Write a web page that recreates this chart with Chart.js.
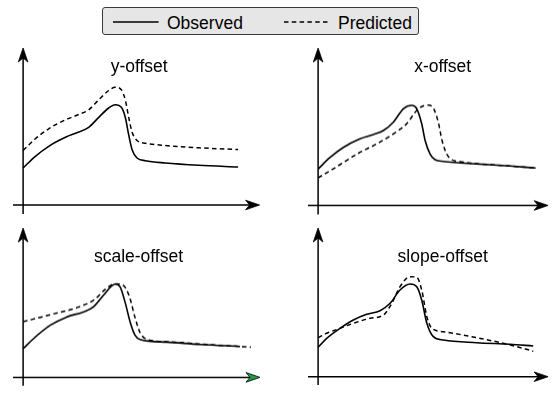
<!DOCTYPE html>
<html><head><meta charset="utf-8">
<script src="https://cdn.jsdelivr.net/npm/chart.js@4.4.1/dist/chart.umd.min.js"></script>
<style>
html,body{margin:0;padding:0;background:#fff;}
body{width:556px;height:394px;position:relative;overflow:hidden;font-family:"Liberation Sans",Arial,Helvetica,sans-serif;color:#000;}
.pan{position:absolute;}
.pan canvas{display:block;}
.ttl{position:absolute;width:200px;text-align:center;font-size:17.5px;line-height:20px;white-space:nowrap;}
#legendBox{position:absolute;left:102px;top:7px;width:317px;height:28px;box-sizing:border-box;border:1px solid #3a3a3a;border-radius:3px;background:#e6e6e6;}
.lg{position:absolute;font-size:17.5px;line-height:20px;white-space:nowrap;}
svg.ls{position:absolute;overflow:visible;}
</style>
</head><body>
<div id="legendBox"></div>
<svg class="ls" style="left:112.7px;top:17.7px" width="46" height="8"><line x1="0" y1="4" x2="45.6" y2="4" stroke="#000" stroke-width="1.5"/></svg>
<div class="lg" style="left:167px;top:12.9px">Observed</div>
<svg class="ls" style="left:284px;top:17.7px" width="46" height="8"><line x1="0" y1="4" x2="45.5" y2="4" stroke="#000" stroke-width="1.5" stroke-dasharray="4.5 3.3"/></svg>
<div class="lg" style="left:338px;top:12.9px">Predicted</div>

<div class="pan" id="w1"><canvas id="c1"></canvas></div>
<div class="pan" id="w2"><canvas id="c2"></canvas></div>
<div class="pan" id="w3"><canvas id="c3"></canvas></div>
<div class="pan" id="w4"><canvas id="c4"></canvas></div>
<div class="ttl" style="left:39.2px;top:55.6px">y-offset</div>
<div class="ttl" style="left:342.7px;top:55.6px">x-offset</div>
<div class="ttl" style="left:38.5px;top:245.6px">scale-offset</div>
<div class="ttl" style="left:342.7px;top:245.6px">slope-offset</div>

<script>
// ---- data (time units on x, signal units on y) ----
const seriesNames = ['Observed', 'Predicted'];
const panelTitles = ['y-offset', 'x-offset', 'scale-offset', 'slope-offset'];

// y-offset panel
const yOffObsX  = [0,0.57,1.19,1.97,2.59,3.05,3.52,3.98,4.29,4.57,4.76,4.91,5.07,5.30,5.69,6.62,8.17,10.0];
const yOffObsY  = [3.7,4.87,5.87,6.77,7.3,7.77,8.77,9.7,10.03,9.77,8.7,7.03,5.53,4.7,4.43,4.2,3.97,3.8];
const yOffPredX = [0,0.57,1.19,1.97,2.59,3.05,3.52,3.98,4.29,4.57,4.76,4.91,5.07,5.30,5.69,6.62,8.17,10.0];
const yOffPredY = [5.45,6.62,7.62,8.52,9.05,9.52,10.52,11.45,11.78,11.52,10.45,8.78,7.28,6.45,6.18,5.95,5.72,5.55];

// x-offset panel
const xOffObsX  = [0,0.56,1.18,1.95,2.57,3.04,3.50,3.97,4.36,4.59,4.82,4.98,5.21,5.44,5.83,7.38,8.93,10.12];
const xOffObsY  = [3.62,4.78,5.78,6.62,7.05,7.45,8.28,9.62,9.95,9.62,8.12,6.45,5.12,4.55,4.38,4.12,3.92,3.72];
const xOffPredX = [0,0.56,1.18,1.95,2.73,3.50,4.12,4.59,4.9,5.14,5.37,5.6,5.76,5.99,6.22,6.6,7.38,8.93,10.12];
const xOffPredY = [2.75,3.45,4.28,5.28,6.12,7.12,8.12,9.45,9.9,9.97,9.65,8.2,6.5,5.1,4.55,4.36,4.15,3.92,3.72];

// scale-offset panel
const scOffObsX  = [0,0.48,1.26,2.03,2.80,3.27,3.74,4.28,4.51,4.74,4.98,5.21,5.44,6.68,8.23,10.09];
const scOffObsY  = [2.84,3.84,5.17,6.0,6.5,7.0,8.17,9.27,9.0,7.5,5.5,4.17,3.77,3.5,3.27,3.07];
const scOffPredX = [0,1.22,2.6,3.3,3.85,4.28,4.67,4.95,5.2,5.45,5.85,6.68,8.23,10.6];
const scOffPredY = [5.53,6.2,7.0,7.7,8.8,9.3,9.13,8.0,6.0,4.4,3.72,3.55,3.32,3.0];

// slope-offset panel
const slOffObsX  = [0,0.40,1.02,1.64,2.26,2.88,3.35,3.81,4.28,4.59,4.82,5.06,5.36,5.83,7.38,8.93,10.01];
const slOffObsY  = [2.94,3.84,4.84,5.67,6.24,6.6,7.34,8.67,9.27,9.0,7.67,5.34,4.0,3.67,3.4,3.24,3.07];
const slOffPredX = [0,0.40,1.02,1.64,2.42,3.04,3.43,3.81,4.28,4.59,4.82,5.06,5.29,5.83,7.38,8.93,10.01];
const slOffPredY = [3.9,4.34,4.84,5.34,5.84,6.17,7.34,9.0,10.0,9.94,8.67,6.0,4.84,4.5,3.9,3.18,2.55];

// ---- layout ----
const KX = 21.5, KY = 10, PAD = 4;
const panels = [
  {wrap:'w1', canvas:'c1', ox:22.7, oy:205,   xmin:-0.47, xmax:11.0,  ymin:-0.9,  ymax:15.7,  ox_:yOffObsX, oy_:yOffObsY, px_:yOffPredX, py_:yOffPredY, head:'#000'},
  {wrap:'w2', canvas:'c2', ox:318,  oy:204.5, xmin:-0.47, xmax:10.7,  ymin:-0.9,  ymax:15.65, ox_:xOffObsX, oy_:xOffObsY, px_:xOffPredX, py_:xOffPredY, head:'#000'},
  {wrap:'w3', canvas:'c3', ox:23,   oy:376.7, xmin:-0.47, xmax:11.02, ymin:-0.83, ymax:14.84, ox_:scOffObsX, oy_:scOffObsY, px_:scOffPredX, py_:scOffPredY, head:'#1f9e4a'},
  {wrap:'w4', canvas:'c4', ox:318,  oy:376.7, xmin:-0.47, xmax:10.7,  ymin:-0.83, ymax:14.87, ox_:slOffObsX, oy_:slOffObsY, px_:slOffPredX, py_:slOffPredY, head:'#000'}
];

function drawHead(ctx, tx, ty, ang, fill){
  ctx.save();
  ctx.translate(tx, ty); ctx.rotate(ang);
  ctx.beginPath();
  ctx.moveTo(0,0); ctx.lineTo(-14,-4.8); ctx.lineTo(-10,0); ctx.lineTo(-14,4.8); ctx.closePath();
  ctx.fillStyle = fill; ctx.fill();
  ctx.lineWidth = 0.8; ctx.strokeStyle = '#000'; ctx.stroke();
  ctx.restore();
}

const arrowAxes = {
  id: 'arrowAxes',
  beforeDatasetsDraw(chart, args, opts){
    const {ctx, chartArea:a} = chart;
    const xs = chart.scales.x, ys = chart.scales.y;
    const x0 = xs.getPixelForValue(0), y0 = ys.getPixelForValue(0);
    ctx.save();
    ctx.strokeStyle = '#000'; ctx.lineWidth = 1.5; ctx.lineCap = 'butt';
    ctx.beginPath(); ctx.moveTo(a.left, y0); ctx.lineTo(a.right - 9, y0); ctx.stroke();
    ctx.beginPath(); ctx.moveTo(x0, a.bottom); ctx.lineTo(x0, a.top + 9); ctx.stroke();
    drawHead(ctx, a.right, y0, 0, opts.xHead || '#000');
    drawHead(ctx, x0, a.top, -Math.PI/2, '#000');
    ctx.restore();
  }
};

function pts(xs, ys){ return xs.map((v,i)=>({x:v, y:ys[i]})); }

panels.forEach((p) => {
  const w = document.getElementById(p.wrap);
  w.style.left = (p.ox + p.xmin*KX - PAD) + 'px';
  w.style.top = (p.oy - p.ymax*KY - PAD) + 'px';
  w.style.width = ((p.xmax - p.xmin)*KX + 2*PAD) + 'px';
  w.style.height = ((p.ymax - p.ymin)*KY + 2*PAD) + 'px';
  new Chart(document.getElementById(p.canvas), {
    type: 'line',
    data: {
      datasets: [
        {label: seriesNames[0], data: pts(p.ox_, p.oy_), borderColor:'#000', borderWidth:1.6,
         pointRadius:0, fill:false, cubicInterpolationMode:'monotone'},
        {label: seriesNames[1], data: pts(p.px_, p.py_), borderColor:'#000', borderWidth:1.5,
         borderDash:[4.5,3.3], pointRadius:0, fill:false, cubicInterpolationMode:'monotone'}
      ]
    },
    options: {
      responsive: true, maintainAspectRatio: false, animation: false,
      layout: {padding: PAD},
      scales: {
        x: {type:'linear', min:p.xmin, max:p.xmax, display:false},
        y: {type:'linear', min:p.ymin, max:p.ymax, display:false}
      },
      plugins: {legend:{display:false}, tooltip:{enabled:false}, title:{display:false},
                arrowAxes:{xHead:p.head}}
    },
    plugins: [arrowAxes]
  });
});
</script>
</body></html>
